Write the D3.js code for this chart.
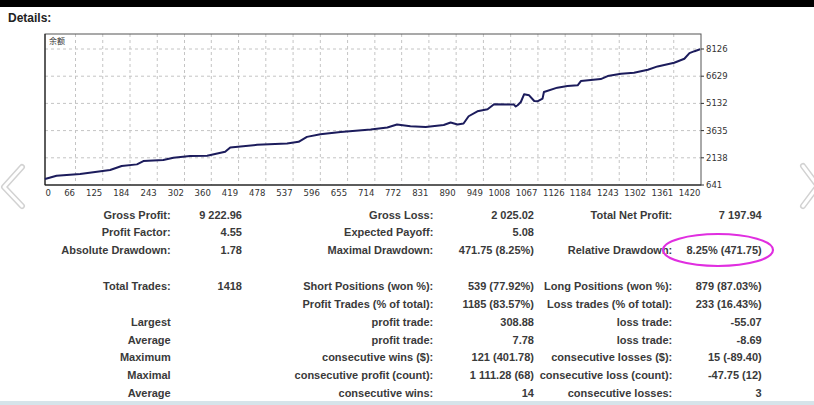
<!DOCTYPE html>
<html><head><meta charset="utf-8">
<script src="https://cdn.jsdelivr.net/npm/d3@7"></script>
<style>
html,body{margin:0;padding:0;background:#fff;}
svg{display:block;}
</style></head>
<body>
<svg id="c" width="814" height="405"></svg>
<script>
// ---- data ----
const tradeIdx = [0,25,76,141,166,199,213,256,278,314,351,390,401,459,524,549,567,596,640,705,741,762,791,824,863,878,893,906,917,936,958,972,1015,1019,1023,1030,1037,1048,1059,1066,1077,1080,1109,1131,1153,1160,1203,1218,1247,1275,1305,1326,1362,1384,1395,1406,1418];
const balance  = [970,1151,1244,1463,1683,1776,1957,2012,2138,2231,2248,2467,2708,2851,2928,3016,3290,3438,3564,3695,3805,3969,3876,3838,3947,4079,3969,4024,4425,4699,4809,5083,5067,4960,5028,5209,5631,5577,5264,5248,5395,5757,5999,6086,6125,6360,6470,6635,6766,6821,6986,7167,7370,7590,7897,8006,8110];
const xTicks = [0,66,125,184,243,302,360,419,478,537,596,655,714,772,831,890,949,1008,1067,1126,1184,1243,1302,1361,1420];
const yTicks = [641,2138,3635,5132,6629,8126];
const seriesLabel = "余额";

const rows = [
  ["Gross Profit:","9 222.96","Gross Loss:","2 025.02","Total Net Profit:","7 197.94"],
  ["Profit Factor:","4.55","Expected Payoff:","5.08","",""],
  ["Absolute Drawdown:","1.78","Maximal Drawdown:","471.75 (8.25%)","Relative Drawdown:","8.25% (471.75)"],
  ["Total Trades:","1418","Short Positions (won %):","539 (77.92%)","Long Positions (won %):","879 (87.03%)"],
  ["","","Profit Trades (% of total):","1185 (83.57%)","Loss trades (% of total):","233 (16.43%)"],
  ["Largest","","profit trade:","308.88","loss trade:","-55.07"],
  ["Average","","profit trade:","7.78","loss trade:","-8.69"],
  ["Maximum","","consecutive wins ($):","121 (401.78)","consecutive losses ($):","15 (-89.40)"],
  ["Maximal","","consecutive profit (count):","1 111.28 (68)","consecutive loss (count):","-47.75 (12)"],
  ["Average","","consecutive wins:","14","consecutive losses:","3"]
];
const rowY = [214.5,232.3,250.3,286,304,321.7,339.5,357.3,375,392.7];

// ---- drawing ----
const svg = d3.select("#c");
svg.append("rect").attr("x",0).attr("y",0).attr("width",814).attr("height",7).attr("fill","#000");
svg.append("rect").attr("x",0).attr("y",401).attr("width",814).attr("height",4).attr("fill","#d6e4ea");

svg.append("text").attr("x",8).attr("y",22).text("Details:")
  .attr("font-family","Liberation Sans, Arial, sans-serif").attr("font-weight","bold")
  .attr("font-size",12).attr("fill","#222");

const L=45, R=701, T=34, B=185;
const x = d3.scaleLinear().domain([0,1420]).range([L,R]);
const y = d3.scaleLinear().domain([641,8126]).range([B,49]);

const g = svg.append("g");
// grid
g.selectAll("line.vg").data(xTicks.slice(1,-1)).enter().append("line")
  .attr("x1",d=>x(d)).attr("x2",d=>x(d)).attr("y1",T).attr("y2",B)
  .attr("stroke","#c4c4c4").attr("stroke-dasharray","3,3").attr("stroke-width",1);
g.selectAll("line.hg").data(yTicks.slice(1)).enter().append("line")
  .attr("x1",L).attr("x2",R).attr("y1",d=>y(d)).attr("y2",d=>y(d))
  .attr("stroke","#c4c4c4").attr("stroke-dasharray","3,3").attr("stroke-width",1);

// frame
g.append("rect").attr("x",L).attr("y",T).attr("width",R-L).attr("height",B-T)
  .attr("fill","none").attr("stroke","#555").attr("stroke-width",1);
g.append("line").attr("x1",L).attr("x2",L).attr("y1",T).attr("y2",B).attr("stroke","#111");
g.append("line").attr("x1",L).attr("x2",R).attr("y1",B).attr("y2",B).attr("stroke","#111");

// line
const pts = tradeIdx.map((t,i)=>[t,balance[i]]);
g.append("path").datum(pts)
  .attr("d", d3.line().x(d=>x(d[0])).y(d=>y(d[1])))
  .attr("fill","none").attr("stroke","#1c1c5c").attr("stroke-width",2).attr("stroke-linejoin","round");

// series label
g.append("text").attr("x",L+4).attr("y",T+10).text(seriesLabel)
  .attr("font-family","Noto Sans CJK SC, sans-serif").attr("font-size",8).attr("fill","#333");

// x axis labels (right-aligned to gridline, first left-aligned)
g.selectAll("text.xl").data(xTicks).enter().append("text")
  .attr("x",(d,i)=> i===0 ? x(d)+0.5 : x(d)-0.5)
  .attr("y",196)
  .attr("text-anchor",(d,i)=> i===0 ? "start" : "end")
  .attr("font-family","DejaVu Sans, sans-serif").attr("font-size",8.5).attr("fill","#333")
  .text(d=>d);

// y axis ticks & labels
g.selectAll("line.yt").data(yTicks).enter().append("line")
  .attr("x1",R).attr("x2",R+3).attr("y1",d=>y(d)).attr("y2",d=>y(d)).attr("stroke","#333");
g.selectAll("text.yl").data(yTicks).enter().append("text")
  .attr("x",R+5).attr("y",d=>y(d)+3)
  .attr("font-family","DejaVu Sans, sans-serif").attr("font-size",8.5).attr("fill","#333")
  .text(d=>d);

// table
const colX = [170.7,242,433.3,534,672.3,761.7];
const tg = svg.append("g").attr("font-family","Liberation Sans, Arial, sans-serif")
  .attr("font-weight","bold").attr("font-size",11).attr("fill","#3a3a3a").attr("text-anchor","end");
rows.forEach((r,ri)=>{
  r.forEach((txt,ci)=>{
    if(!txt) return;
    tg.append("text").attr("x",colX[ci]).attr("y",rowY[ri]+4).text(txt);
  });
});

// magenta ellipse
svg.append("ellipse").attr("cx",718).attr("cy",250).attr("rx",55).attr("ry",16)
  .attr("fill","none").attr("stroke","#e02ee0").attr("stroke-width",2.2);

// navigation chevrons
function chevron(pts){
  const ln = d3.line();
  svg.append("path").attr("d",ln(pts)).attr("fill","none").attr("stroke","#d2d2d2")
    .attr("stroke-width",6).attr("stroke-linecap","round").attr("stroke-linejoin","round");
  svg.append("path").attr("d",ln(pts)).attr("fill","none").attr("stroke","#fff")
    .attr("stroke-width",3).attr("stroke-linecap","round").attr("stroke-linejoin","round");
}
chevron([[22,167],[4,187],[22,206]]);
chevron([[803,166],[818,186],[803,206]]);
</script>
</body></html>
